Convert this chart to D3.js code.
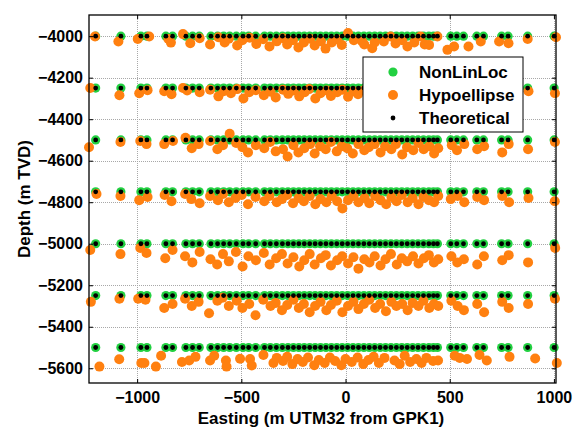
<!DOCTYPE html>
<html>
<head>
<meta charset="utf-8">
<script src="https://cdn.jsdelivr.net/npm/d3@7"></script>
<style>
  html, body { margin: 0; padding: 0; background: #fff; }
  svg { display: block; }
  text { font-family: "Liberation Sans", Arial, sans-serif; font-weight: bold; fill: #000; }
</style>
</head>
<body>
<svg id="chart" width="577" height="428"></svg>
<script>
// Event grid: easting (m) of the theoretical sources, repeated on every depth level
const theoEasting = [-1199, -1078, -982, -953, -862, -830, -766, -734, -702, -646, -614, -585, -556,
  -524, -492, -465, -431, -389, -361, -332, -303, -276, -250, -224, -198, -172, -146, -120, -94, -68,
  -42, -16, 10, 36, 62, 88, 114, 140, 166, 192, 218, 244, 270, 296, 322, 348, 374, 400, 422, 441,
  505, 534, 566, 630, 662, 749, 780, 874, 1001];
const depthLevels = [-4000, -4250, -4500, -4750, -5000, -5250, -5500];

// Hypoellipse locations per depth level: [easting, depth]
const hypo4000 = [[-1202,-4002],[-1090,-4026],[-997,-4014],[-942,-4002],[-850,-4014],[-838,-4031],[-780,-3990],[-745,-4034],[-700,-4010],[-650,-4040],[-610,-4005],[-580,-4030],[-560,-4012],[-520,-4045],[-495,-4020],[-460,-4008],[-428,-4038],[-395,-4015],[-365,-4050],[-330,-4025],[-300,-4010],[-280,-4040],[-252,-4020],[-226,-4055],[-200,-4030],[-170,-4012],[-148,-4045],[-118,-4025],[-96,-4060],[-66,-4030],[-40,-4015],[-18,-4042],[12,-3985],[40,-4020],[80,-4026],[90,-4040],[128,-4058],[140,-4030],[184,-4026],[216,-4002],[240,-4035],[297,-4050],[272,-4020],[330,-4030],[360,-4002],[380,-4040],[401,-4042],[441,-4002],[489,-4066],[521,-4050],[590,-4050],[649,-4026],[737,-4026],[782,-4034],[874,-4014],[1010,-4005]];
const hypo4250 = [[-1225,-4250],[-1085,-4285],[-990,-4275],[-950,-4260],[-870,-4265],[-835,-4280],[-780,-4250],[-760,-4262],[-700,-4270],[-650,-4258],[-610,-4290],[-585,-4265],[-550,-4275],[-520,-4255],[-490,-4300],[-462,-4270],[-430,-4260],[-392,-4285],[-360,-4268],[-335,-4295],[-300,-4258],[-275,-4278],[-248,-4262],[-222,-4290],[-196,-4270],[-175,-4255],[-145,-4300],[-120,-4275],[-90,-4262],[-70,-4288],[-40,-4270],[-15,-4258],[12,-4292],[38,-4265],[60,-4280],[90,-4260],[115,-4298],[142,-4272],[165,-4262],[190,-4285],[220,-4268],[246,-4300],[268,-4275],[298,-4258],[320,-4282],[350,-4270],[372,-4290],[402,-4262],[425,-4275],[445,-4285],[508,-4262],[538,-4280],[570,-4300],[632,-4270],[665,-4262],[752,-4280],[785,-4290],[878,-4265],[1005,-4275]];
const hypo4500 = [[-1231,-4535],[-1080,-4510],[-985,-4505],[-955,-4520],[-870,-4520],[-828,-4505],[-768,-4490],[-738,-4540],[-705,-4520],[-650,-4505],[-615,-4545],[-588,-4525],[-556,-4470],[-525,-4515],[-495,-4535],[-468,-4560],[-430,-4525],[-390,-4540],[-362,-4510],[-335,-4555],[-300,-4545],[-278,-4580],[-250,-4525],[-226,-4560],[-198,-4540],[-170,-4520],[-148,-4565],[-122,-4530],[-95,-4545],[-70,-4510],[-42,-4555],[-18,-4530],[8,-4540],[35,-4565],[62,-4520],[90,-4550],[112,-4535],[140,-4520],[168,-4560],[190,-4530],[220,-4545],[242,-4520],[272,-4570],[295,-4535],[325,-4550],[350,-4515],[375,-4545],[402,-4530],[425,-4565],[445,-4540],[510,-4525],[535,-4550],[570,-4520],[632,-4545],[665,-4530],[752,-4560],[783,-4520],[876,-4545],[1005,-4510]];
const hypo4750 = [[-1195,-4760],[-1080,-4770],[-990,-4790],[-950,-4775],[-868,-4765],[-835,-4795],[-770,-4760],[-740,-4785],[-700,-4805],[-650,-4770],[-612,-4790],[-588,-4760],[-560,-4800],[-528,-4780],[-498,-4765],[-468,-4810],[-432,-4775],[-390,-4795],[-365,-4770],[-330,-4800],[-305,-4785],[-280,-4765],[-252,-4805],[-225,-4780],[-200,-4795],[-172,-4770],[-145,-4810],[-120,-4785],[-92,-4800],[-66,-4770],[-40,-4795],[-15,-4830],[12,-4790],[38,-4770],[62,-4800],[92,-4780],[114,-4805],[142,-4770],[168,-4790],[195,-4810],[220,-4775],[245,-4795],[270,-4765],[298,-4800],[322,-4780],[350,-4810],[374,-4775],[400,-4790],[425,-4800],[445,-4770],[505,-4785],[538,-4770],[570,-4800],[632,-4775],[665,-4790],[752,-4770],[785,-4800],[878,-4780],[1004,-4795]];
const hypo5000 = [[-1225,-5030],[-1080,-5050],[-985,-5020],[-955,-5045],[-865,-5070],[-830,-5030],[-770,-5060],[-735,-5090],[-700,-5040],[-648,-5075],[-616,-5100],[-588,-5050],[-560,-5085],[-526,-5040],[-494,-5110],[-466,-5060],[-430,-5080],[-392,-5045],[-364,-5100],[-333,-5070],[-305,-5050],[-278,-5095],[-250,-5065],[-222,-5110],[-198,-5080],[-172,-5050],[-148,-5100],[-118,-5070],[-95,-5055],[-70,-5105],[-40,-5080],[-16,-5060],[12,-5095],[38,-5065],[62,-5120],[90,-5075],[115,-5090],[140,-5060],[168,-5105],[192,-5075],[218,-5050],[246,-5100],[270,-5070],[296,-5085],[324,-5060],[350,-5095],[376,-5070],[400,-5055],[424,-5090],[445,-5075],[508,-5060],[536,-5090],[568,-5075],[632,-5100],[664,-5060],[752,-5080],[783,-5055],[876,-5090],[1006,-5020]];
const hypo5250 = [[-1222,-5280],[-1085,-5265],[-995,-5265],[-960,-5270],[-870,-5310],[-830,-5290],[-770,-5265],[-738,-5300],[-705,-5280],[-655,-5335],[-615,-5275],[-590,-5260],[-560,-5300],[-522,-5275],[-495,-5310],[-462,-5290],[-432,-5345],[-395,-5270],[-360,-5300],[-335,-5285],[-305,-5320],[-280,-5295],[-250,-5270],[-224,-5310],[-200,-5290],[-172,-5330],[-146,-5300],[-120,-5280],[-92,-5320],[-70,-5295],[-42,-5275],[-15,-5330],[12,-5300],[38,-5280],[62,-5315],[88,-5290],[114,-5270],[142,-5310],[166,-5290],[194,-5325],[220,-5280],[244,-5300],[272,-5290],[298,-5320],[322,-5285],[350,-5300],[374,-5275],[402,-5310],[424,-5290],[445,-5300],[508,-5275],[538,-5300],[568,-5320],[632,-5290],[665,-5330],[752,-5280],[783,-5310],[876,-5290],[1005,-5265]];
const hypo5500 = [[-1181,-5592],[-1086,-5557],[-980,-5575],[-965,-5575],[-910,-5592],[-885,-5540],[-785,-5570],[-750,-5563],[-720,-5545],[-650,-5563],[-630,-5540],[-574,-5563],[-571,-5592],[-506,-5554],[-458,-5555],[-450,-5587],[-394,-5536],[-346,-5575],[-330,-5550],[-300,-5565],[-280,-5545],[-255,-5580],[-230,-5555],[-205,-5570],[-180,-5548],[-150,-5585],[-128,-5560],[-100,-5575],[-75,-5548],[-50,-5565],[-20,-5585],[0,-5555],[30,-5570],[58,-5548],[85,-5580],[110,-5560],[135,-5545],[160,-5575],[187,-5550],[235,-5563],[260,-5580],[284,-5540],[310,-5570],[340,-5555],[365,-5575],[388,-5550],[420,-5565],[444,-5563],[524,-5540],[548,-5550],[583,-5555],[643,-5536],[678,-5563],[787,-5545],[910,-5553],[1014,-5575]];

const xTicks = [-1000, -500, 0, 500, 1000];
const yTicks = [-4000, -4200, -4400, -4600, -4800, -5000, -5200, -5400, -5600];
const seriesNames = ["NonLinLoc", "Hypoellipse", "Theoretical"];
const seriesColors = ["#22d041", "#ff8010", "#000000"];

// Combined point tables
const theoPoints = depthLevels.flatMap(z => theoEasting.map(e => [e, z]));
const hypoPoints = [].concat(hypo4000, hypo4250, hypo4500, hypo4750, hypo5000, hypo5250, hypo5500);

const svg = d3.select("#chart");
const plot = { left: 89, right: 556, top: 15, bottom: 383 };

const x = d3.scaleLinear().domain([-1231, 1010]).range([plot.left, plot.right]);
const y = d3.scaleLinear().domain([-5671, -3898]).range([plot.bottom, plot.top]);

// Dotted grid
const grid = svg.append("g").attr("stroke", "#a8a8a8").attr("stroke-width", 1).attr("stroke-dasharray", "1,1");
grid.selectAll("line.gx").data(xTicks).join("line")
  .attr("x1", d => Math.round(x(d)) + 0.5).attr("x2", d => Math.round(x(d)) + 0.5)
  .attr("y1", plot.top).attr("y2", plot.bottom);
grid.selectAll("line.gy").data(yTicks).join("line")
  .attr("y1", d => Math.round(y(d)) + 0.5).attr("y2", d => Math.round(y(d)) + 0.5)
  .attr("x1", plot.left).attr("x2", plot.right);

// Markers: NonLinLoc, then Hypoellipse, then Theoretical on top
const marks = svg.append("g");
marks.selectAll("circle.nll").data(theoPoints).join("circle")
  .attr("cx", d => x(d[0])).attr("cy", d => y(d[1])).attr("r", 4.6)
  .attr("fill", seriesColors[0]);
marks.selectAll("circle.hyp").data(hypoPoints).join("circle")
  .attr("cx", d => x(d[0])).attr("cy", d => y(d[1])).attr("r", 5)
  .attr("fill", seriesColors[1]);
marks.selectAll("circle.theo").data(theoPoints).join("circle")
  .attr("cx", d => x(d[0])).attr("cy", d => y(d[1])).attr("r", 2.4)
  .attr("fill", seriesColors[2]);

// Axes with inward ticks on all four sides
const tickFont = "16px";
const axBottom = d3.axisBottom(x).tickValues(xTicks).tickSizeInner(-4).tickSizeOuter(0).tickPadding(9).tickFormat(d3.format("d"));
const axLeft = d3.axisLeft(y).tickValues(yTicks).tickSizeInner(-4).tickSizeOuter(0).tickPadding(6).tickFormat(d3.format("d"));
const axTop = d3.axisTop(x).tickValues(xTicks).tickSizeInner(-4).tickSizeOuter(0).tickFormat("");
const axRight = d3.axisRight(y).tickValues(yTicks).tickSizeInner(-4).tickSizeOuter(0).tickFormat("");

function styleAxis(g) {
  g.select(".domain").remove();
  g.selectAll(".tick line").attr("stroke", "#000").attr("stroke-width", 1);
  g.selectAll(".tick text").style("font-size", tickFont).style("font-weight", "bold")
    .attr("font-family", "Liberation Sans, Arial, sans-serif").attr("fill", "#000");
}
svg.append("g").attr("transform", `translate(0,${plot.bottom})`).call(axBottom).call(styleAxis);
svg.append("g").attr("transform", `translate(${plot.left},0)`).call(axLeft).call(styleAxis);
svg.append("g").attr("transform", `translate(0,${plot.top})`).call(axTop).call(styleAxis);
svg.append("g").attr("transform", `translate(${plot.right},0)`).call(axRight).call(styleAxis);

// Frame
svg.append("rect")
  .attr("x", plot.left).attr("y", plot.top)
  .attr("width", plot.right - plot.left).attr("height", plot.bottom - plot.top)
  .attr("fill", "none").attr("stroke", "#000").attr("stroke-width", 1.3);

// Axis titles
svg.append("text").attr("x", 321).attr("y", 424).attr("text-anchor", "middle")
  .style("font-size", "17px").text("Easting (m UTM32 from GPK1)");
svg.append("text").attr("transform", "translate(30,199) rotate(-90)").attr("text-anchor", "middle")
  .style("font-size", "17px").text("Depth (m TVD)");

// Legend
const legend = svg.append("g").attr("transform", "translate(363,57)");
legend.append("rect").attr("width", 160).attr("height", 75)
  .attr("fill", "#fff").attr("stroke", "#000").attr("stroke-width", 1);
const legendR = [4.6, 5, 2.4];
seriesNames.forEach((name, i) => {
  const cy = 15 + i * 23;
  legend.append("circle").attr("cx", 30).attr("cy", cy).attr("r", legendR[i]).attr("fill", seriesColors[i]);
  legend.append("text").attr("x", 56).attr("y", cy + 6).style("font-size", "17px").text(name);
});
</script>
</body>
</html>
